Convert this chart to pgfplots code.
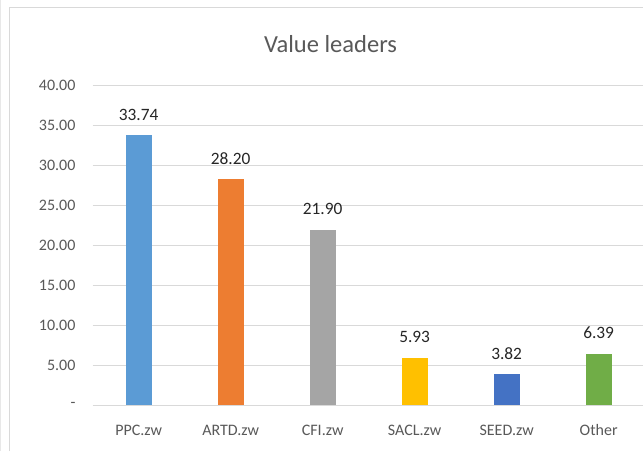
\documentclass[border=0pt]{standalone}
\usepackage{pgfplots}
\pgfplotsset{compat=1.18}
\usepackage{fontspec}
\setmainfont{Carlito}
\definecolor{c1}{HTML}{5B9BD5}
\definecolor{c2}{HTML}{ED7D31}
\definecolor{c3}{HTML}{A5A5A5}
\definecolor{c4}{HTML}{FFC000}
\definecolor{c5}{HTML}{4472C4}
\definecolor{c6}{HTML}{70AD47}
\definecolor{txtgray}{HTML}{595959}
\definecolor{gridgray}{HTML}{D9D9D9}
\begin{document}
\begin{tikzpicture}
\useasboundingbox[fill=white] (0,0) rectangle (482.25pt,338.25pt);
% chart frame
\draw[gridgray, line width=0.75pt] (6.75pt,0) -- (6.75pt,332.25pt) -- (482.25pt,332.25pt);
\draw[gridgray!60, line width=0.75pt] (0.6pt,0) -- (0.6pt,338.25pt);
% title
\node[font=\fontsize{18.4pt}{22pt}\selectfont, text=txtgray] at (247.9pt,305.25pt) {Value leaders};
\begin{axis}[
  at={(69.5pt,34.5pt)}, anchor=south west,
  scale only axis, width=414pt, height=240pt,
  xmin=-0.5, xmax=5.5, ymin=0, ymax=40,
  xtick={0,1,2,3,4,5},
  xticklabels={PPC.zw, ARTD.zw, CFI.zw, SACL.zw, SEED.zw, Other},
  ytick={0,5,...,40},
  yticklabels={-\hspace{4.5pt}, 5.00, 10.00, 15.00, 20.00, 25.00, 30.00, 35.00, 40.00},
  ymajorgrids, major grid style={gridgray, line width=0.75pt},
  axis line style={draw=none},
  major tick length=0pt,
  tick label style={font=\fontsize{12pt}{14pt}\selectfont, text=txtgray},
  yticklabel style={anchor=east, inner sep=0pt, xshift=-12.75pt},
  xticklabel style={anchor=center, inner sep=0pt, yshift=-18.75pt},
  ybar, bar width=19.5pt, bar shift=0pt,
  point meta=explicit symbolic,
  nodes near coords,
  nodes near coords style={font=\fontsize{13pt}{15pt}\selectfont, text=black!85, anchor=south, inner sep=0pt, yshift=10.9pt},
  clip=false,
]
\addplot[draw=none, fill=c1] coordinates {(0,33.74) [33.74]};
\addplot[draw=none, fill=c2] coordinates {(1,28.20) [28.20]};
\addplot[draw=none, fill=c3] coordinates {(2,21.90) [21.90]};
\addplot[draw=none, fill=c4] coordinates {(3,5.93) [5.93]};
\addplot[draw=none, fill=c5] coordinates {(4,3.82) [3.82]};
\addplot[draw=none, fill=c6] coordinates {(5,6.39) [6.39]};
\end{axis}
\end{tikzpicture}
\end{document}
